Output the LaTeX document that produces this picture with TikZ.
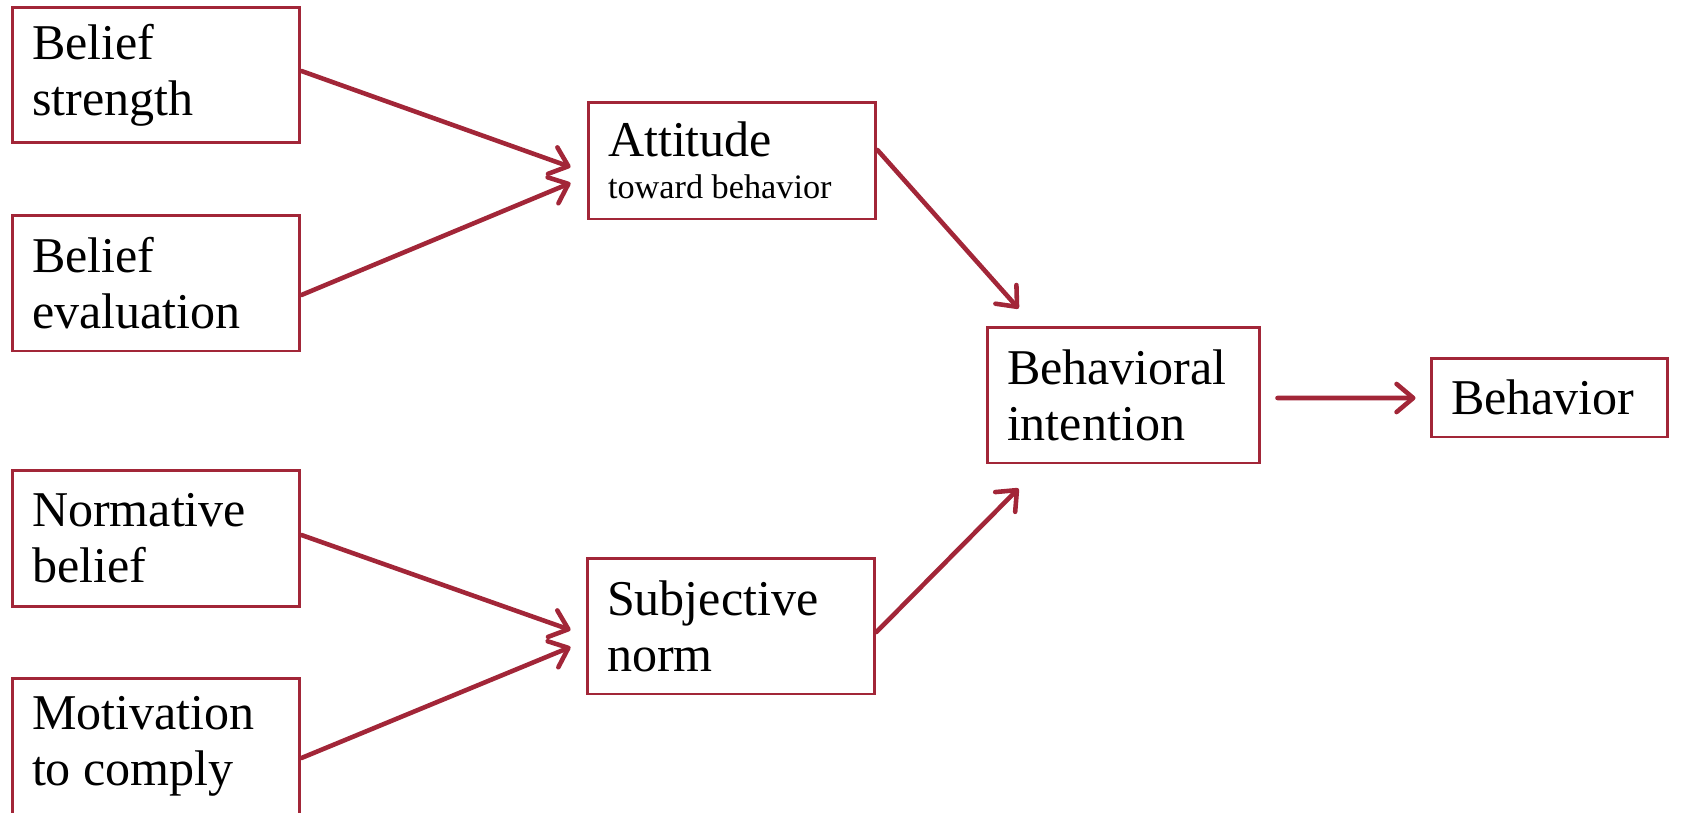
\documentclass[tikz,border=0pt]{standalone}
\usepackage{fontspec}
\setmainfont{Liberation Serif}
\usetikzlibrary{arrows.meta}
\definecolor{boxred}{RGB}{162,38,56}

\begin{document}
\begin{tikzpicture}[x=0.02cm,y=-0.02cm,
  box/.style={draw=boxred,line width=1.7pt,rectangle,align=flush left,
    inner xsep=0.4cm,inner ysep=0pt,text width=4.96cm,minimum height=2.72cm,
    font=\fontsize{28.5}{32}\selectfont},
  link/.style={draw=boxred,line width=2.6pt,line cap=round,
    -{Straight Barb[length=9.5pt,width=16pt,round]}}]
\useasboundingbox (0,0) rectangle (1681,812);
\node[box] (bs) at (156,75) {Belief\\strength};
\node[box] (be) at (156,283) {Belief\\evaluation};
\node[box] (nb) at (156,538.5) {Normative\\belief};
\node[box] (mc) at (156,746) {Motivation\\to comply};
\node[box,minimum height=2.34cm] (att) at (732,160.5) {Attitude\\[-8pt]{\fontsize{19.5}{24}\selectfont toward behavior}};
\node[box] (sn) at (731,626) {Subjective\\norm};
\node[box,text width=4.66cm] (bi) at (1123.5,395) {Behavioral\\intention};
\node[box,text width=3.94cm,minimum height=1.58cm] (beh) at (1549.5,397.5) {Behavior};
\draw[link] ([shift={(0,-4)}]bs.east) -- ([shift={(-16,6.5)}]att.west);
\draw[link] ([shift={(0,12)}]be.east) -- ([shift={(-16,22.5)}]att.west);
\draw[link] ([shift={(0,-3.5)}]nb.east) -- ([shift={(-15,4)}]sn.west);
\draw[link] ([shift={(0,12)}]mc.east) -- ([shift={(-15,21)}]sn.west);
\draw[link] ([shift={(0,-10.5)}]att.east) -- ([shift={(33,-17)}]bi.north west);
\draw[link] ([shift={(0,6)}]sn.east) -- ([shift={(33,24)}]bi.south west);
\draw[link] ([shift={(16,3)}]bi.east) -- ([shift={(-14,0.5)}]beh.west);
\end{tikzpicture}
\end{document}
